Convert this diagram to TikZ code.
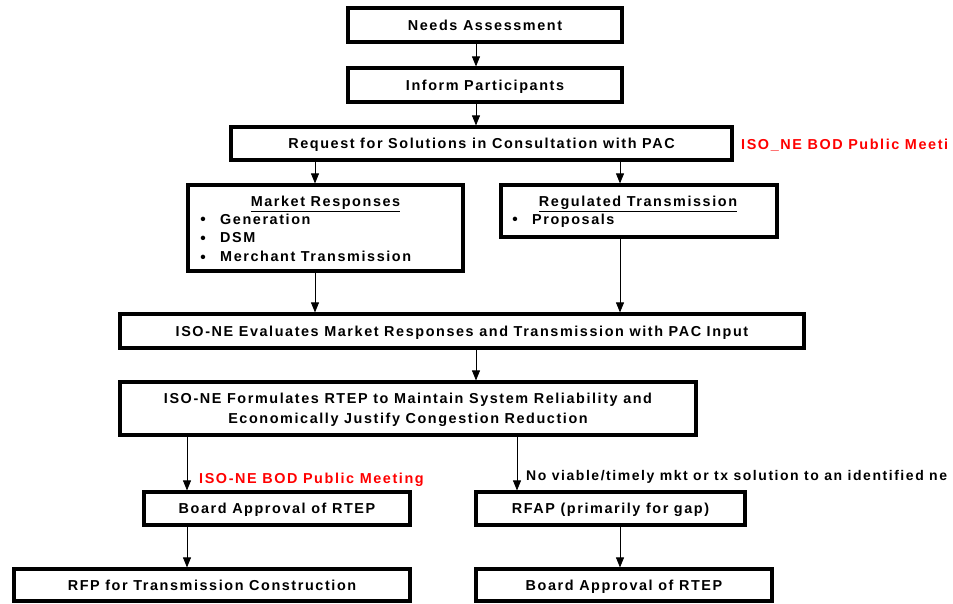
\documentclass[tikz,border=0pt]{standalone}
\usepackage{fontspec}
\setmainfont{Liberation Sans}[LetterSpace=11]
\usetikzlibrary{arrows.meta}
\definecolor{meetred}{RGB}{255,0,0}
\begin{document}
\begin{tikzpicture}[x=1pt,y=-1pt,
  txt/.style={font=\bfseries\fontsize{14.4}{20}\selectfont, inner sep=0pt},
  frame/.style={txt, draw=black, line width=3.2pt, align=center, minimum height=34pt},
  box/.style={frame, text height=10.5pt, text depth=0pt},
  arr/.style={line width=0.8pt, -{Triangle[width=8pt,length=10pt]}},
  redlab/.style={txt, text=meetred, anchor=base west},
  blklab/.style={txt, text=black, anchor=base west, font=\bfseries\fontsize{14}{20}\selectfont},
  item/.style={txt, anchor=base west},
  bul/.style={txt, anchor=base, font=\bfseries\fontsize{15.5}{20}\selectfont}]
\clip (0,0) rectangle (953,604);
\fill[white] (0,0) rectangle (953,604);
% column coordinates for connectors
\coordinate (xa) at (476,0);
\coordinate (xb) at (315,0);
\coordinate (xc) at (620,0);
\coordinate (xd) at (187,0);
\coordinate (xe) at (517,0);
% boxes
\node[box, minimum width=274pt] (needs) at (485,25) {Needs Assessment};
\node[box, minimum width=274pt] (inform) at (485,85) {Inform Participants};
\node[box, minimum width=501pt, minimum height=33pt] (request) at (481.5,143.5) {Request for Solutions in Consultation with PAC};
\node[box, minimum width=275pt, minimum height=86pt] (market) at (325.5,228) {};
\node[box, minimum width=276pt, minimum height=52pt] (regulated) at (639,211) {};
\node[box, minimum width=684pt] (evaluates) at (462,331) {ISO-NE Evaluates Market Responses and Transmission with PAC Input};
\node[frame, minimum width=576pt, minimum height=53pt] (formulates) at (408,408.5) {};
\node[txt, align=center, yshift=-1.5pt] (formtext) at (formulates.center) {ISO-NE Formulates RTEP to Maintain System Reliability and\\Economically Justify Congestion Reduction};
\node[box, minimum width=266pt, minimum height=33pt] (boardl) at (277,508.5) {Board Approval of RTEP};
\node[box, minimum width=269pt, minimum height=33pt] (rfap) at (610.5,508.5) {RFAP (primarily for gap)};
\node[box, minimum width=396pt, minimum height=32pt] (rfp) at (212,585) {RFP for Transmission Construction};
\node[box, minimum width=296pt, minimum height=32pt] (boardr) at (624,585) {Board Approval of RTEP};
% contents of the two response boxes
\node[txt, anchor=base] (mtitle) at (325.5,206.5) {\underline{Market Responses}};
\node[bul] (mb1) at (203,225) {\textbullet};
\node[item] (m1) at (220,224.5) {Generation};
\node[bul] (mb2) at (203,243.5) {\textbullet};
\node[item] (m2) at (220,243) {DSM};
\node[bul] (mb3) at (203,262) {\textbullet};
\node[item] (m3) at (220,261.5) {Merchant Transmission};
\node[txt, anchor=base] (rtitle) at (638,206.5) {\underline{Regulated Transmission}};
\node[bul] (rb1) at (515,225) {\textbullet};
\node[item] (r1) at (532,224.5) {Proposals};
% side labels
\node[redlab] (meet1) at (741,149.5) {ISO\_NE BOD Public Meeti};
\node[redlab] (meet2) at (199,483.5) {ISO-NE BOD Public Meeting};
\node[blklab] (noviable) at (526,480.5) {No viable/timely mkt or tx solution to an identified ne};
% connectors
\draw[arr] (needs.south -| xa) -- (inform.north -| xa);
\draw[arr] (inform.south -| xa) -- (request.north -| xa);
\draw[arr] (request.south -| xb) -- (market.north -| xb);
\draw[arr] (request.south -| xc) -- (regulated.north -| xc);
\draw[arr] (market.south -| xb) -- (evaluates.north -| xb);
\draw[arr] (regulated.south -| xc) -- (evaluates.north -| xc);
\draw[arr] (evaluates.south -| xa) -- (formulates.north -| xa);
\draw[arr] (formulates.south -| xd) -- (boardl.north -| xd);
\draw[arr] (formulates.south -| xe) -- (rfap.north -| xe);
\draw[arr] (boardl.south -| xd) -- (rfp.north -| xd);
\draw[arr] (rfap.south -| xc) -- (boardr.north -| xc);
\end{tikzpicture}
\end{document}
